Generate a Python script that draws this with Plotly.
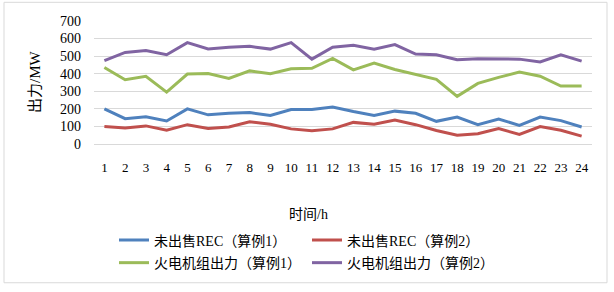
import plotly.graph_objects as go

hours = list(range(1, 25))
rec_case1 = [200, 144, 155, 131, 200, 166, 175, 179, 162, 196, 196, 211, 185, 162, 187, 175, 129, 153, 110, 142, 106, 153, 133, 97]
rec_case2 = [99, 91, 103, 78, 110, 88, 97, 127, 112, 86, 75, 86, 123, 112, 136, 110, 77, 50, 58, 88, 54, 99, 78, 45]
thermal_case1 = [435, 366, 385, 295, 398, 401, 373, 416, 400, 428, 431, 487, 422, 461, 424, 398, 368, 271, 345, 379, 409, 386, 330, 330]
thermal_case2 = [474, 521, 532, 508, 577, 541, 551, 556, 540, 577, 483, 551, 562, 540, 566, 512, 508, 480, 485, 485, 483, 467, 508, 472]

names = ["未出售REC（算例1）", "未出售REC（算例2）", "火电机组出力（算例1）", "火电机组出力（算例2）"]
colors = ["#4F81BD", "#C0504D", "#9BBB59", "#8064A2"]
series = [rec_case1, rec_case2, thermal_case1, thermal_case2]

FONT = "Liberation Serif, Times New Roman, Noto Sans CJK SC"

W, H = 614, 292
L, R, T, B = 94, 22, 21, 146
PW, PH = W - L - R, H - T - B

def px_x(p):
    return (p - L) / PW

def px_y(p):
    return (H - B - p) / PH

fig = go.Figure()
legend_ids = ["legend", "legend2", "legend3", "legend4"]
for name, col, ys, lg in zip(names, colors, series, legend_ids):
    fig.add_trace(go.Scatter(
        x=hours, y=ys, name=name, mode="lines",
        line=dict(color=col, width=3),
        legend=lg, showlegend=True,
    ))

legend_pos = [(114, 244), (307, 244), (114, 267), (307, 267)]
layout_legends = {}
for lg, (lx, ly) in zip(legend_ids, legend_pos):
    layout_legends[lg] = dict(
        x=px_x(lx), y=px_y(ly), xref="paper", yref="paper",
        xanchor="left", yanchor="middle",
        font=dict(family=FONT, size=14, color="#000000"),
        bgcolor="rgba(0,0,0,0)", borderwidth=0,
        itemwidth=30, tracegroupgap=0,
    )

fig.update_layout(
    width=W, height=H,
    margin=dict(l=L, r=R, t=T, b=B, pad=0),
    paper_bgcolor="#FFFFFF", plot_bgcolor="#FFFFFF",
    font=dict(family=FONT, size=14, color="#000000"),
    hovermode=False,
    **layout_legends,
    xaxis=dict(
        range=[0.5, 24.5], tickvals=hours, ticktext=[str(h) for h in hours],
        showgrid=False, zeroline=False, showline=False, ticks="",
        tickfont=dict(family=FONT, size=13, color="#000000"),
        ticklabelstandoff=14,
    ),
    yaxis=dict(
        range=[0, 700], dtick=100, tick0=0,
        showgrid=True, gridcolor="#D9D9D9", gridwidth=1,
        zeroline=True, zerolinecolor="#D9D9D9", zerolinewidth=1,
        showline=False, ticks="",
        tickfont=dict(family=FONT, size=14, color="#000000"),
        ticklabelstandoff=12,
    ),
    annotations=[
        dict(text="时间/h", x=px_x(308), y=px_y(218), xref="paper", yref="paper",
             showarrow=False, xanchor="center", yanchor="middle",
             font=dict(family=FONT, size=14, color="#000000")),
        dict(text="出力/MW", x=px_x(35), y=px_y(83), xref="paper", yref="paper",
             showarrow=False, xanchor="center", yanchor="middle", textangle=-90,
             font=dict(family=FONT, size=15, color="#000000")),
    ],
    shapes=[
        dict(type="rect", xref="paper", yref="paper",
             x0=px_x(4), x1=px_x(607), y0=px_y(287), y1=px_y(2),
             line=dict(color="#D9D9D9", width=1), fillcolor="rgba(0,0,0,0)", layer="below"),
    ],
)

fig.write_html(
    "out.html",
    config={"displayModeBar": False},
    post_script="document.body.style.margin='0';document.body.style.overflow='hidden';",
)
